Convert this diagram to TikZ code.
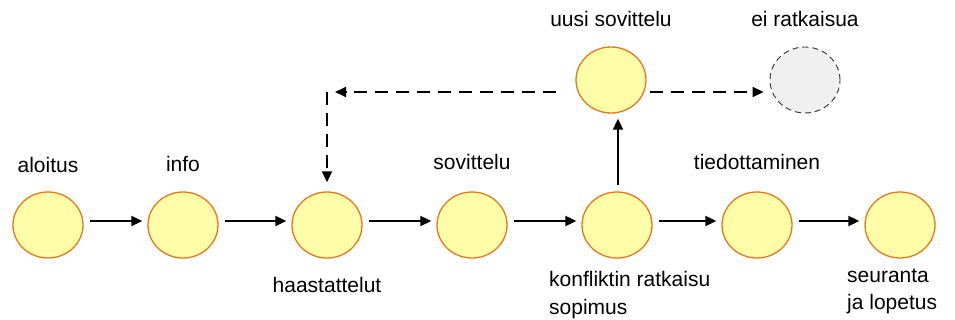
\documentclass[tikz,border=0pt]{standalone}
\usepackage{fontspec}
\setmainfont{Liberation Sans}
\usetikzlibrary{shapes.geometric,arrows.meta}
\definecolor{stagefill}{HTML}{FFFDA8}
\definecolor{stageedge}{HTML}{E8781E}
\definecolor{endfill}{HTML}{F0F0F0}
\definecolor{endedge}{HTML}{333333}
\tikzset{
  stage/.style={ellipse,draw=stageedge,fill=stagefill,line width=1.3pt,
    minimum width=70pt,minimum height=66pt,inner sep=0pt},
  deadend/.style={ellipse,draw=endedge,fill=endfill,line width=0.9pt,
    dash pattern=on 6pt off 4pt,minimum width=70pt,minimum height=66pt,inner sep=0pt},
  lbl/.style={font=\fontsize{21}{28}\selectfont,anchor=base,inner sep=0pt},
  flow/.style={line width=1.8pt,-{Triangle[length=11pt,width=10pt]},
    shorten <=6pt,shorten >=5pt},
  alt/.style={flow,dash pattern=on 13pt off 8pt}
}
\begin{document}
\begin{tikzpicture}[x=1pt,y=-1pt]
\useasboundingbox (0,0) rectangle (955,320);
% stages along the main line
\node[stage] (a) at (48,225) {};
\node[stage] (b) at (183,225) {};
\node[stage] (c) at (327,225) {};
\node[stage] (d) at (472,225) {};
\node[stage] (e) at (617,225) {};
\node[stage] (f) at (757,225) {};
\node[stage] (g) at (900,225) {};
% upper branch
\node[stage] (u) at (611,80) {};
\node[deadend] (x) at (805,80) {};
% labels
\node[lbl] (la) at (48,173) {aloitus};
\node[lbl] (lb) at (183,172) {info};
\node[lbl] (lc) at (327,292) {haastattelut};
\node[lbl] (ld) at (472,170) {sovittelu};
\node[lbl] (lf) at (757,170) {tiedottaminen};
\node[lbl,anchor=base west] (le1) at (549,287) {konfliktin ratkaisu};
\node[lbl,anchor=base west] (le2) at (549,314) {sopimus};
\node[lbl,anchor=base west] (lg1) at (847,283) {seuranta};
\node[lbl,anchor=base west] (lg2) at (847,309) {ja lopetus};
\node[lbl] (lu) at (611,27) {uusi sovittelu};
\node[lbl] (lx) at (805,27) {ei ratkaisua};
% main flow
\foreach \s/\t in {a/b,b/c,c/d,d/e,e/f,f/g}
  \draw[flow] ([yshift=4pt]\s.east) -- ([yshift=4pt]\t.west);
% up to a new mediation
\draw[flow] ([xshift=1pt]e.north) -- ([xshift=7pt]u.south);
% dashed returns and the dead end
\coordinate (corner) at (327,92);
\draw[alt,shorten <=19pt,shorten >=8pt] ([yshift=-12pt]u.west) -- (corner);
\draw[alt,shorten <=0pt,shorten >=9pt] (corner) -- (c.north);
\draw[alt,shorten <=3pt,shorten >=6pt] ([yshift=-12pt]u.east) -- ([yshift=-12pt]x.west);
\end{tikzpicture}
\end{document}
